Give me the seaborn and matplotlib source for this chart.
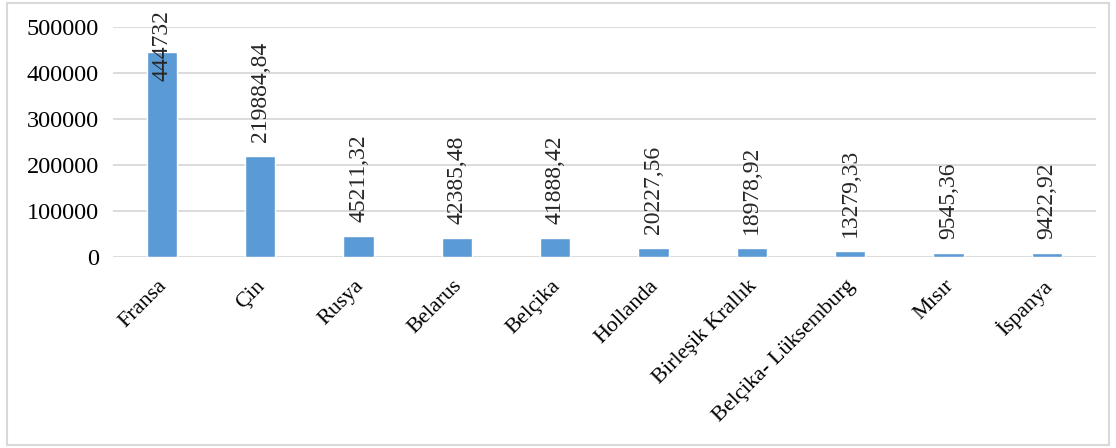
import matplotlib
matplotlib.use("Agg")
import matplotlib.pyplot as plt
import matplotlib.transforms as mtransforms
from matplotlib.patches import Rectangle
import seaborn as sns
import pandas as pd

countries = ["Fransa", "Çin", "Rusya", "Belarus", "Belçika", "Hollanda",
             "Birleşik Krallık", "Belçika- Lüksemburg", "Mısır", "İspanya"]
values = [444732, 219884.84, 45211.32, 42385.48, 41888.42, 20227.56,
          18978.92, 13279.33, 9545.36, 9422.92]
value_labels = ["444732", "219884,84", "45211,32", "42385,48", "41888,42",
                "20227,56", "18978,92", "13279,33", "9545,36", "9422,92"]
yticks = [0, 100000, 200000, 300000, 400000, 500000]

sns.set_theme(style="white")
plt.rcParams['font.family'] = ['Liberation Serif', 'DejaVu Serif']

df = pd.DataFrame({"country": countries, "value": values})

fig = plt.figure(figsize=(11.16, 4.48), dpi=100)
ax = fig.add_axes([0.101, 0.4263, 0.881, 0.5134])

sns.barplot(data=df, x="country", y="value", color="#5B9BD5", width=0.31,
            saturation=1, ax=ax, zorder=3)

ax.set_ylim(0, 500000)
ax.set_yticks(yticks)
ax.set_yticklabels([str(t) for t in yticks], fontsize=17.5, color="#000000")
ax.yaxis.grid(True, color="#d9d9d9", linewidth=1.3, zorder=0)
ax.set_axisbelow(True)
for s in ax.spines.values():
    s.set_visible(False)
ax.tick_params(axis="y", length=0, pad=10)
ax.tick_params(axis="x", length=0, pad=16)
ax.set_xlabel("")
ax.set_ylabel("")
ax.set_xlim(-0.5, len(countries) - 0.5)
shift = mtransforms.ScaledTranslation(0.025, -0.04, fig.dpi_scale_trans)
for lab in ax.get_xticklabels():
    lab.set_rotation(45)
    lab.set_ha("right")
    lab.set_va("center")
    lab.set_rotation_mode("anchor")
    lab.set_fontsize(16)
    lab.set_color("#000000")
    lab.set_transform(lab.get_transform() + shift)

# value labels
ymax = 500000
for i, (v, t) in enumerate(zip(values, value_labels)):
    if v > 0.8 * ymax:
        trans = mtransforms.blended_transform_factory(ax.transData, ax.transAxes)
        ax.text(i, 1.074, t, rotation=90, ha="center", va="top", fontsize=17,
                transform=trans, zorder=4)
    else:
        ax.annotate(t, (i, v), xytext=(0, 10), textcoords="offset points",
                    rotation=90, ha="center", va="bottom", fontsize=17, zorder=4)

# figure border
fig.patches.append(Rectangle((0.006, 0.006), 0.988, 0.988, transform=fig.transFigure,
                             fill=False, edgecolor="#d9d9d9", linewidth=1.5))

fig.savefig("out.png", dpi=100)
